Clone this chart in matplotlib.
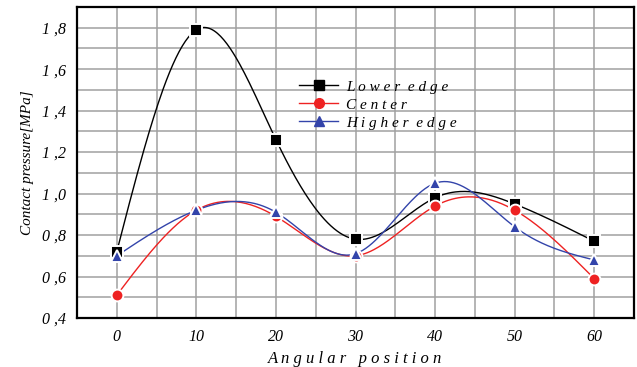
import numpy as np
import matplotlib
matplotlib.use("Agg")
import matplotlib.pyplot as plt
from matplotlib.ticker import MultipleLocator, FixedLocator

angle = [0, 10, 20, 30, 40, 50, 60]
lower_edge = [0.72, 1.79, 1.26, 0.78, 0.98, 0.95, 0.77]
center = [0.51, 0.92, 0.89, 0.70, 0.94, 0.92, 0.59]
higher_edge = [0.70, 0.92, 0.91, 0.71, 1.05, 0.84, 0.68]
y_ticks = [0.4, 0.6, 0.8, 1.0, 1.2, 1.4, 1.6, 1.8]


def spline(x, y, n=300):
    # natural cubic spline through the points
    x = np.asarray(x, float)
    y = np.asarray(y, float)
    k = len(x)
    h = np.diff(x)
    A = np.zeros((k, k))
    b = np.zeros(k)
    A[0, 0] = A[-1, -1] = 1
    for i in range(1, k - 1):
        A[i, i - 1] = h[i - 1]
        A[i, i] = 2 * (h[i - 1] + h[i])
        A[i, i + 1] = h[i]
        b[i] = 3 * ((y[i + 1] - y[i]) / h[i] - (y[i] - y[i - 1]) / h[i - 1])
    c = np.linalg.solve(A, b)
    xs = np.linspace(x[0], x[-1], n)
    idx = np.clip(np.searchsorted(x, xs) - 1, 0, k - 2)
    dx = xs - x[idx]
    bb = (y[idx + 1] - y[idx]) / h[idx] - h[idx] * (2 * c[idx] + c[idx + 1]) / 3
    dd = (c[idx + 1] - c[idx]) / (3 * h[idx])
    ys = y[idx] + bb * dx + c[idx] * dx ** 2 + dd * dx ** 3
    return xs, ys


plt.rcParams["font.family"] = ["Liberation Serif", "DejaVu Serif"]

fig = plt.figure(figsize=(6.37, 3.67), dpi=100)
ax = fig.add_axes([77 / 637, 1 - 318 / 367, 557 / 637, 311 / 367])

series = [
    (lower_edge, "black", "s", "L o w e r  e d g e"),
    (center, "#ee2222", "o", "C e n t e r"),
    (higher_edge, "#3344aa", "^", "H i g h e r  e d g e"),
]
handles = []
for vals, col, mk, lab in series:
    xs, ys = spline(angle, vals)
    ax.plot(xs, ys, color=col, lw=1.0, zorder=3)
    ax.plot(angle, vals, ls="none", marker=mk, color=col, ms=8.5,
            mec="white", mew=1.4, zorder=4)
    h, = ax.plot([], [], color=col, lw=1.0, marker=mk, ms=7, label=lab)
    handles.append(h)

ax.set_xlim(-5, 65)
ax.set_ylim(0.4, 1.9)
ax.xaxis.set_major_locator(FixedLocator(angle))
ax.xaxis.set_minor_locator(MultipleLocator(5))
ax.yaxis.set_major_locator(FixedLocator(y_ticks))
ax.yaxis.set_minor_locator(MultipleLocator(0.1))
ax.set_yticklabels([f"{v:.1f}".replace(".", " ,") for v in y_ticks])
ax.set_xticklabels([str(a) for a in angle])
ax.grid(True, which="both", color="#a0a0a0", lw=1.1, zorder=0)
ax.tick_params(which="both", length=0, labelsize=11.5, pad=8)
for t in ax.get_xticklabels() + ax.get_yticklabels():
    t.set_fontstyle("italic")
for s in ax.spines.values():
    s.set_linewidth(1.6)

ax.set_xlabel("A n g u l a r   p o s i t i o n", fontsize=12,
              style="italic", labelpad=4)
ax.set_ylabel("Contact pressure[MPa]", fontsize=11, style="italic",
              labelpad=6)

ax.legend(handles=handles, loc="upper left", bbox_to_anchor=(0.387, 0.785),
          frameon=False, prop={"style": "italic", "size": 11},
          handlelength=2.6, handletextpad=0.5, labelspacing=0.28,
          borderaxespad=0)

fig.savefig("out.png", dpi=100)
